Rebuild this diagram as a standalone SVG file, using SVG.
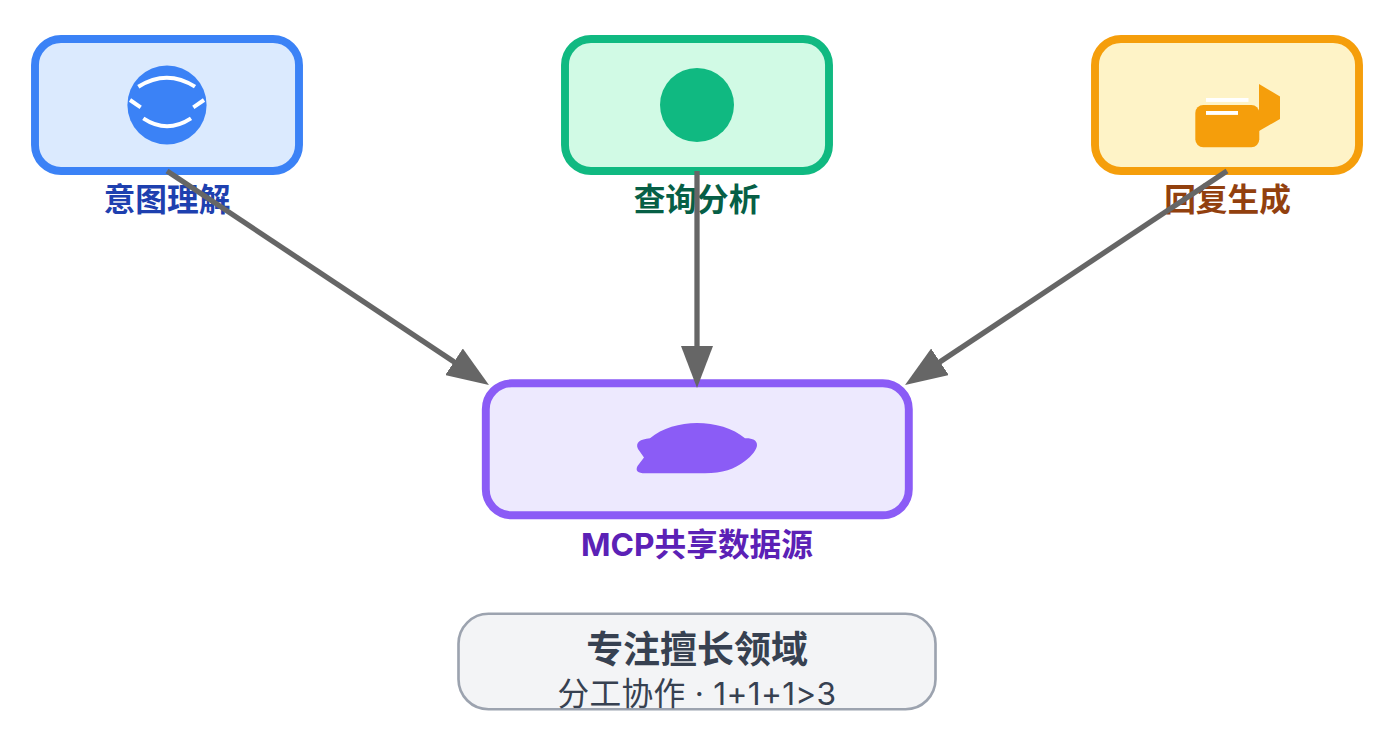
<svg xmlns="http://www.w3.org/2000/svg" width="1390" height="742" viewBox="0 0 1390 742">
<style>
.box{stroke-width:7.92}
.lbl{font-family:"Inter","Noto Sans CJK SC",sans-serif;font-weight:700;font-size:31.68px;text-anchor:middle}
.edge{stroke:#666;stroke-width:5.28;fill:none;marker-end:url(#arrow)}
</style>
<defs>
<marker id="arrow" markerUnits="userSpaceOnUse" markerWidth="42" markerHeight="32" refX="22" refY="16" orient="auto">
<polygon points="0,0 42,16 0,32" fill="#666"/>
</marker>
</defs>
<rect width="1390" height="742" fill="#fff"/>
<g id="node-intent">
<rect class="box" x="35" y="39" width="264" height="132" rx="26" fill="#dbeafe" stroke="#3b82f6"/>
<circle cx="167" cy="105" r="39.6" fill="#3b82f6"/>
<g fill="none" stroke="#fff" stroke-width="3.96">
<path d="M138.3 86.7Q167 68.7 195 86.7"/>
<path d="M143.3 118.3Q167 134 191 118.3"/>
<path d="M130 100L140.7 107.3"/>
<path d="M204 100L193.3 107.3"/>
</g>
<text class="lbl" x="167" y="211.3" fill="#1e40af">意图理解</text>
</g>
<g id="node-query">
<rect class="box" x="565" y="39" width="264" height="132" rx="26" fill="#d1fae5" stroke="#10b981"/>
<circle cx="697" cy="105" r="37" fill="#10b981"/>
<text class="lbl" x="697" y="211.3" fill="#065f46">查询分析</text>
</g>
<g id="node-reply">
<rect class="box" x="1095" y="39" width="264" height="132" rx="26" fill="#fef3c7" stroke="#f59e0b"/>
<rect x="1195.3" y="105" width="64" height="42.3" rx="8" fill="#f59e0b"/>
<polygon points="1259,84 1280,96.5 1280,119 1259,131" fill="#f59e0b"/>
<rect x="1206" y="98" width="42.5" height="3.9" fill="#fff"/>
<rect x="1206" y="111" width="32" height="3.9" fill="#fff"/>
<text class="lbl" x="1227.5" y="211.3" fill="#92400e">回复生成</text>
</g>
<g id="node-mcp">
<rect class="box" x="485.8" y="383.3" width="423" height="132" rx="26" fill="#ede9fe" stroke="#8b5cf6"/>
<path d="M650 438.3C662 428 680 423 697 423C715 423 733 428 745 438.3C752 438 757 440 757 445C757 449 752 456 745 461C735 469 722 473.3 705 473.3L645 473.3C638 473.3 635 471 637.5 466L644 457.5L638 449C635 443 640 439 650 438.3Z" fill="#8b5cf6"/>
<text class="lbl" x="697" y="555.5" fill="#5b21b6">MCP共享数据源</text>
</g>
<g id="connectors">
<line class="edge" x1="167" y1="171" x2="472.3" y2="374"/>
<line class="edge" x1="697" y1="171" x2="697" y2="368"/>
<line class="edge" x1="1227" y1="171" x2="921.7" y2="374"/>
</g>
<g id="note">
<rect x="458.5" y="613.8" width="477" height="95.5" rx="30" fill="#f3f4f6" stroke="#9ca3af" stroke-width="2.64"/>
<text x="697" y="662.7" text-anchor="middle" font-family="Inter,'Noto Sans CJK SC',sans-serif" font-weight="700" font-size="36.96" fill="#374151">专注擅长领域</text>
<text x="697" y="704.5" text-anchor="middle" font-family="Inter,'Noto Sans CJK SC',sans-serif" font-size="31.68" letter-spacing="0.3" fill="#374151">分工协作 · 1+1+1&gt;3</text>
</g>
</svg>
